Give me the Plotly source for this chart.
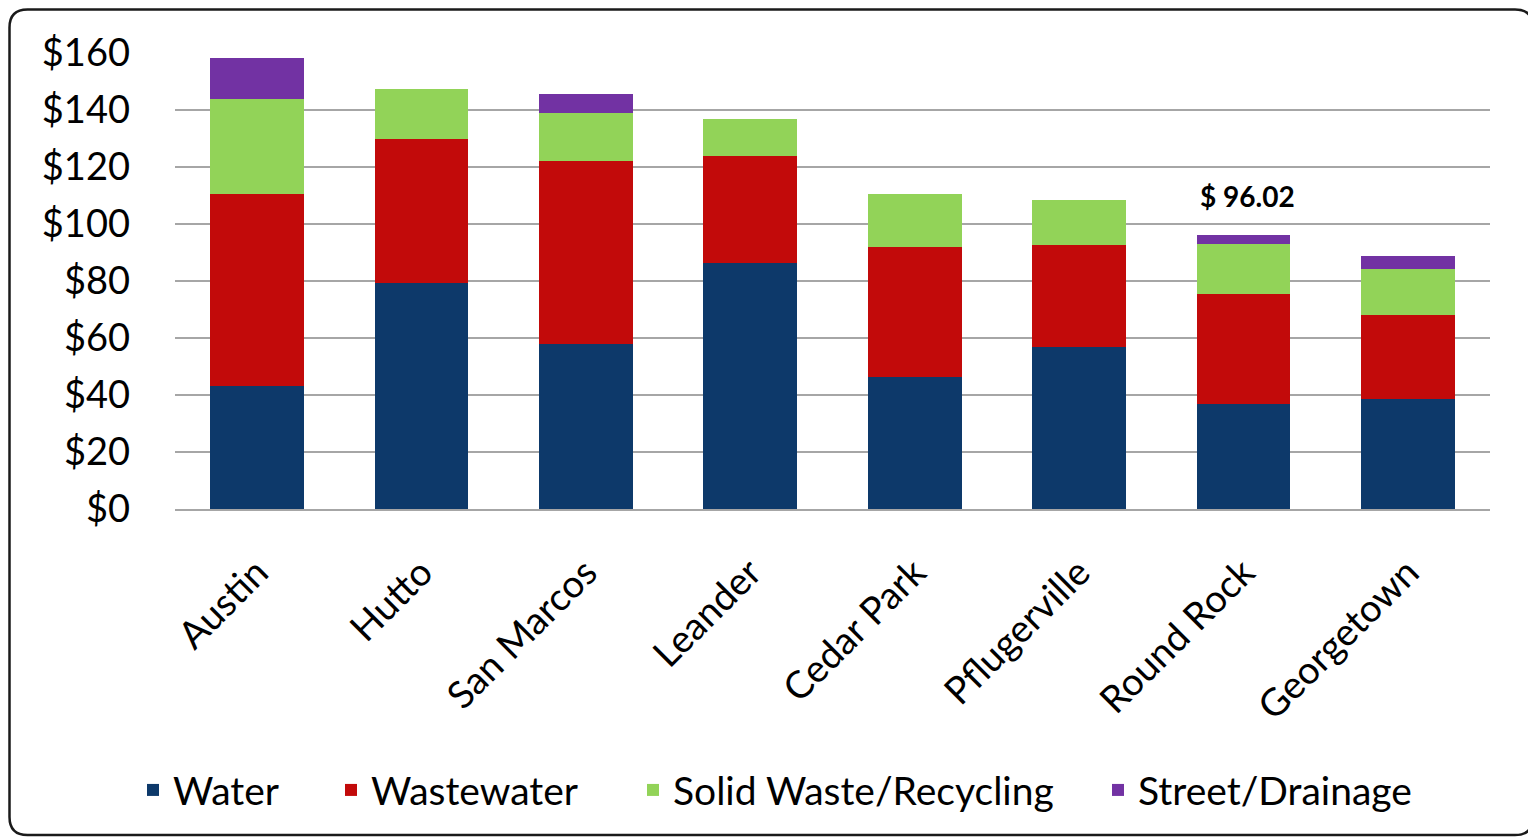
import plotly.graph_objects as go

cities = ["Austin", "Hutto", "San Marcos", "Leander", "Cedar Park",
          "Pflugerville", "Round Rock", "Georgetown"]
water = [43.2, 79.4, 57.8, 86.4, 46.4, 56.8, 37.0, 38.6]
wastewater = [67.2, 50.3, 64.4, 37.3, 45.6, 36.0, 38.5, 29.3]
solid_waste = [33.6, 17.7, 16.6, 13.1, 18.5, 15.7, 17.4, 16.2]
street_drainage = [14.1, 0.0, 6.8, 0.0, 0.0, 0.0, 3.12, 4.6]
highlight_city = "Round Rock"
highlight_label = "$ 96.02"
y_ticks = [0, 20, 40, 60, 80, 100, 120, 140, 160]

FONT = "Lato"
W, H = 1528, 832
L, R, T, B = 167, 46, 45, 331

series = [
    ("Water", water, "#0d396a", "legend", 145),
    ("Wastewater", wastewater, "#c20a0a", "legend2", 343),
    ("Solid Waste/Recycling", solid_waste, "#92d358", "legend3", 645),
    ("Street/Drainage", street_drainage, "#7232a3", "legend4", 1110),
]

fig = go.Figure()
legend_layout = {}
for name, vals, col, leg, cx in series:
    fig.add_trace(go.Bar(
        x=cities, y=vals, name=name, legend=leg,
        marker=dict(color=col, line=dict(width=0)),
        hoverinfo="x+y+name",
    ))
    legend_layout[leg] = dict(
        orientation="h", xref="container", yref="container",
        x=(cx - 20) / W, xanchor="left", y=0.060, yanchor="middle",
        font=dict(family=FONT, size=39, color="black"),
        bgcolor="rgba(0,0,0,0)", borderwidth=0,
    )

hi = cities.index(highlight_city)
total_hi = water[hi] + wastewater[hi] + solid_waste[hi] + street_drainage[hi]
fig.add_annotation(
    x=highlight_city, y=total_hi, text=highlight_label,
    showarrow=False, yanchor="bottom", yshift=20, xshift=4,
    font=dict(family=FONT, size=28, color="black", weight="bold"),
)

# rounded outer border (paper coords derived from pixel geometry)
pw, ph = W - L - R, H - T - B
def px(x): return (x - L) / pw
def py(y): return (H - B - y) / ph
x0, x1, y0, y1 = 1.5, 1525, 1.5, 827
r = 18
path = (
    f"M {px(x0+r)},{py(y0)} L {px(x1-r)},{py(y0)} "
    f"Q {px(x1)},{py(y0)} {px(x1)},{py(y0+r)} "
    f"L {px(x1)},{py(y1-r)} Q {px(x1)},{py(y1)} {px(x1-r)},{py(y1)} "
    f"L {px(x0+r)},{py(y1)} Q {px(x0)},{py(y1)} {px(x0)},{py(y1-r)} "
    f"L {px(x0)},{py(y0+r)} Q {px(x0)},{py(y0)} {px(x0+r)},{py(y0)} Z"
)
fig.add_shape(type="path", path=path, xref="paper", yref="paper",
              line=dict(color="#1a1a1a", width=2.5), layer="above")

fig.update_layout(
    width=W, height=H,
    margin=dict(l=L, r=R, t=T, b=B),
    barmode="stack", bargap=0.43,
    plot_bgcolor="white", paper_bgcolor="white",
    font=dict(family=FONT, color="black"),
    showlegend=True,
    xaxis=dict(
        tickangle=-45, tickfont=dict(family=FONT, size=38, color="black"),
        showgrid=False, showline=True, linecolor="#a6a6a6", linewidth=2,
        ticks="", ticklabelstandoff=24,
    ),
    yaxis=dict(
        range=[0, 160], tickvals=y_ticks,
        ticktext=[f"${v}" for v in y_ticks],
        tickfont=dict(family=FONT, size=38, color="black"),
        showgrid=True, gridcolor="#a6a6a6", gridwidth=2,
        zeroline=False, showline=False, ticks="", ticklabelstandoff=44,
    ),
    **legend_layout,
)

fig.write_html("out.html")
